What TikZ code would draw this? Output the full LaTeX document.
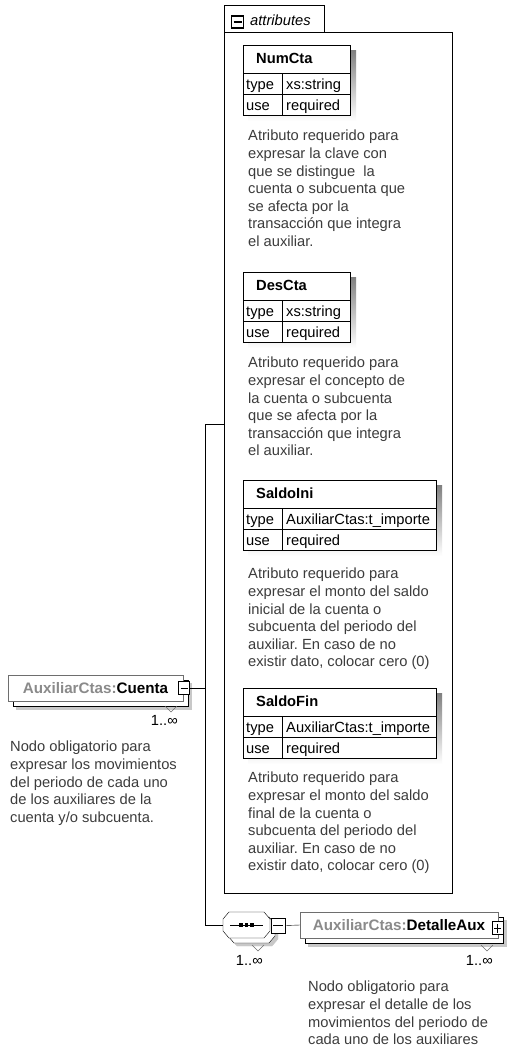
\documentclass[tikz,border=0pt]{standalone}
\usepackage{fontspec}
\setmainfont{Liberation Sans}
\usetikzlibrary{calc}
\definecolor{shade}{HTML}{C8C8C8}
\definecolor{desc}{HTML}{3C3C3C}
\definecolor{prefix}{HTML}{8A8A8A}
\definecolor{edge}{HTML}{6E6E6E}
\newcommand{\xsdfont}{\fontsize{14.7}{17.6}\selectfont}
\frenchspacing

% attribute table: top y, right x, name, type
\newcommand{\attrtab}[4]{
  \fill[shade] (248,{#1+5}) rectangle ({#2+6},{#1+76});
  \draw[fill=white] (243,#1) rectangle (#2,{#1+70});
  \draw (243,{#1+28}) -- (#2,{#1+28});
  \draw (243,{#1+49}) -- (#2,{#1+49});
  \draw (282,{#1+28}) -- (282,{#1+70});
  \node[anchor=base west, font=\xsdfont\bfseries] (#3) at (256,{#1+18.5}) {#3};
  \node[anchor=base west] (#3-t) at (246,{#1+44.5}) {type};
  \node[anchor=base west] (#3-tv) at (286,{#1+44.5}) {#4};
  \node[anchor=base west] (#3-u) at (246,{#1+65}) {use};
  \node[anchor=base west] (#3-uv) at (286,{#1+65}) {required};
}

\begin{document}
\begin{tikzpicture}[x=1pt, y=-1pt, font=\xsdfont,
    every node/.style={inner sep=0pt},
    descr/.style={anchor=north west, align=left, text=desc},
    card/.style={anchor=base east},
    notch/.style={draw=edge},
    pmbox/.style={draw, fill=white, minimum width=11pt, minimum height=13pt},
    minusbox/.style={pmbox, path picture={
        \draw ([xshift=2pt]path picture bounding box.west) -- ([xshift=-2pt]path picture bounding box.east);}},
    plusbox/.style={pmbox, path picture={
        \draw ([xshift=2pt]path picture bounding box.west) -- ([xshift=-2pt]path picture bounding box.east);
        \draw ([yshift=2pt]path picture bounding box.south) -- ([yshift=-2pt]path picture bounding box.north);}},
    elem/.style={draw=edge, fill=white, minimum height=26pt, font=\fontsize{15.2}{18}\selectfont\bfseries}]
    \useasboundingbox (0,0) rectangle (506,1052);

    % attributes group
    \node[draw, fill=white, minimum width=228pt, minimum height=861pt] (attrbox) at (338,462.5) {};
    \draw[fill=white] (attrbox.north west) -- ++(0,-27) -- ++(100,0) -- ++(0,27);
    \node[minusbox, line width=1.2pt, minimum width=12pt, minimum height=12pt] (attrpm) at (237.5,22) {};
    \node[anchor=west, font=\xsdfont\itshape] (attrlbl) at (250,20) {attributes};

    \attrtab{45}{350}{NumCta}{xs:string}
    \node[descr] (NumCta-d) at (248,130) {Atributo requerido para\\expresar la clave con\\que se distingue~ la\\cuenta o subcuenta que\\se afecta por la\\transacción que integra\\el auxiliar.};

    \attrtab{272}{350}{DesCta}{xs:string}
    \node[descr] (DesCta-d) at (248,357) {Atributo requerido para\\expresar el concepto de\\la cuenta o subcuenta\\que se afecta por la\\transacción que integra\\el auxiliar.};

    \attrtab{480}{436}{SaldoIni}{AuxiliarCtas:t\_importe}
    \node[descr] (SaldoIni-d) at (248,568) {Atributo requerido para\\expresar el monto del saldo\\inicial de la cuenta o\\subcuenta del periodo del\\auxiliar. En caso de no\\existir dato, colocar cero (0)};

    \attrtab{688}{436}{SaldoFin}{AuxiliarCtas:t\_importe}
    \node[descr] (SaldoFin-d) at (248,772) {Atributo requerido para\\expresar el monto del saldo\\final de la cuenta o\\subcuenta del periodo del\\auxiliar. En caso de no\\existir dato, colocar cero (0)};

    % element Cuenta
    \foreach \d/\f/\e in {8/shade/shade, 5/white/black}
        \draw[fill=\f, draw=\e, shift={(\d,\d)}] (8,675) rectangle (183,701);
    \node[elem, minimum width=175pt] (cuenta) at (95.5,688) {\textcolor{prefix}{AuxiliarCtas:}Cuenta};
    \node[minusbox] (cuentapm) at (184,688) {};
    \draw[notch] (165,706) -- (171,712) -- (177,706);
    \node[card] (cuentacard) at (178,725) {1..∞};
    \node[descr] (cuenta-d) at (10,741) {Nodo obligatorio para\\expresar los movimientos\\del periodo de cada uno\\de los auxiliares de la\\cuenta y/o subcuenta.};

    % sequence
    \foreach \d/\f/\e in {8/shade/shade, 5/white/black, 0/white/black}
        \draw[fill=\f, draw=\e, shift={(\d,\d)}] (223,919) -- (229,912) -- (264,912) -- (270,919)
            -- (270,931) -- (264,938) -- (229,938) -- (223,931) -- cycle;
    \node[minimum width=47pt, minimum height=26pt] (seq) at (246.5,925) {};
    \draw (230,925) -- (263,925);
    \foreach \x in {241,246.5,252}
        \fill (\x-1.8,923.2) rectangle (\x+1.8,926.8);
    \node[minusbox, minimum width=14pt, minimum height=15pt] (seqpm) at (278,925.5) {};
    \draw[notch] (252,945) -- (258,951) -- (264,945);
    \node[card] (seqcard) at (263,965) {1..∞};

    % element DetalleAux
    \foreach \d/\f/\e in {8/shade/shade, 5/white/black}
        \draw[fill=\f, draw=\e, shift={(\d,\d)}] (300,912) rectangle (498,938);
    \node[elem, minimum width=198pt] (detalle) at (399,925) {\textcolor{prefix}{AuxiliarCtas:}DetalleAux};
    \node[plusbox] (detallepm) at (497.5,928) {};
    \draw[notch] (481,945) -- (487,951) -- (493,945);
    \node[card] (detallecard) at (493,965) {1..∞};
    \node[descr] (detalle-d) at (308,981) {Nodo obligatorio para\\expresar el detalle de los\\movimientos del periodo de\\cada uno de los auxiliares};

    % connectors
    \coordinate (jn) at (205,688);
    \coordinate (jtop) at (205,424);
    \coordinate (jbot) at (205,925);
    \draw (cuentapm.east) -- (jn);
    \draw (attrbox.west |- jtop) -- (jtop) -- (jbot) -- (seq.west);
    \draw (seqpm.east) -- (detalle.west);
\end{tikzpicture}
\end{document}
